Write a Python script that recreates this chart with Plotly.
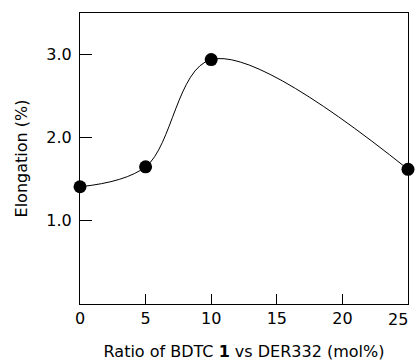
import plotly.graph_objects as go

ratio = [0, 5, 10, 25]
elongation = [1.41, 1.65, 2.94, 1.62]
x_ticks = [0, 5, 10, 15, 20, 25]
y_ticks = [1.0, 2.0, 3.0]
y_tick_labels = ["1.0", "2.0", "3.0"]

fig = go.Figure()
fig.add_trace(go.Scatter(
    x=ratio, y=elongation, mode="lines",
    line=dict(color="black", width=1, shape="spline", smoothing=1.0),
    hoverinfo="skip", showlegend=False, cliponaxis=False,
))
fig.add_trace(go.Scatter(
    x=ratio, y=elongation, mode="markers",
    marker=dict(color="black", size=13),
    showlegend=False, cliponaxis=False,
))

font_family = "DejaVu Sans, Liberation Sans, Arial, sans-serif"
# last tick label sits flush against the right edge, drawn as a right-anchored label
x_tick_text = [str(v) for v in x_ticks[:-1]] + [""]
fig.add_annotation(
    x=x_ticks[-1], xref="x", y=0, yref="paper",
    text=str(x_ticks[-1]), showarrow=False,
    xanchor="right", yanchor="top", xshift=2, yshift=-4,
    font=dict(family=font_family, size=16, color="black"),
)

fig.update_layout(
    width=417, height=364,
    margin=dict(l=80, r=9, t=13, b=60, autoexpand=False),
    paper_bgcolor="white", plot_bgcolor="white",
    font=dict(family=font_family, size=16, color="black"),
    xaxis=dict(
        range=[0, 25], tickvals=x_ticks, ticktext=x_tick_text,
        ticks="inside", ticklen=10, tickwidth=1, tickcolor="black",
        showline=True, linecolor="black", linewidth=1, mirror=True,
        showgrid=False, zeroline=False, automargin=False,
        title=dict(text="Ratio of BDTC <b>1</b> vs DER332 (mol%)", standoff=18,
                   font=dict(size=16)),
        tickfont=dict(size=16),
    ),
    yaxis=dict(
        range=[0, 3.5], tickvals=y_ticks, ticktext=y_tick_labels,
        ticks="inside", ticklen=12, tickwidth=1, tickcolor="black",
        showline=True, linecolor="black", linewidth=1, mirror=True,
        showgrid=False, zeroline=False, automargin=False,
        ticklabelstandoff=4,
        title=dict(text="Elongation (%)", standoff=14, font=dict(size=16)),
        tickfont=dict(size=16),
    ),
)

fig.write_html("out.html", config={"displayModeBar": False},
               post_script="document.body.style.margin='0';")
